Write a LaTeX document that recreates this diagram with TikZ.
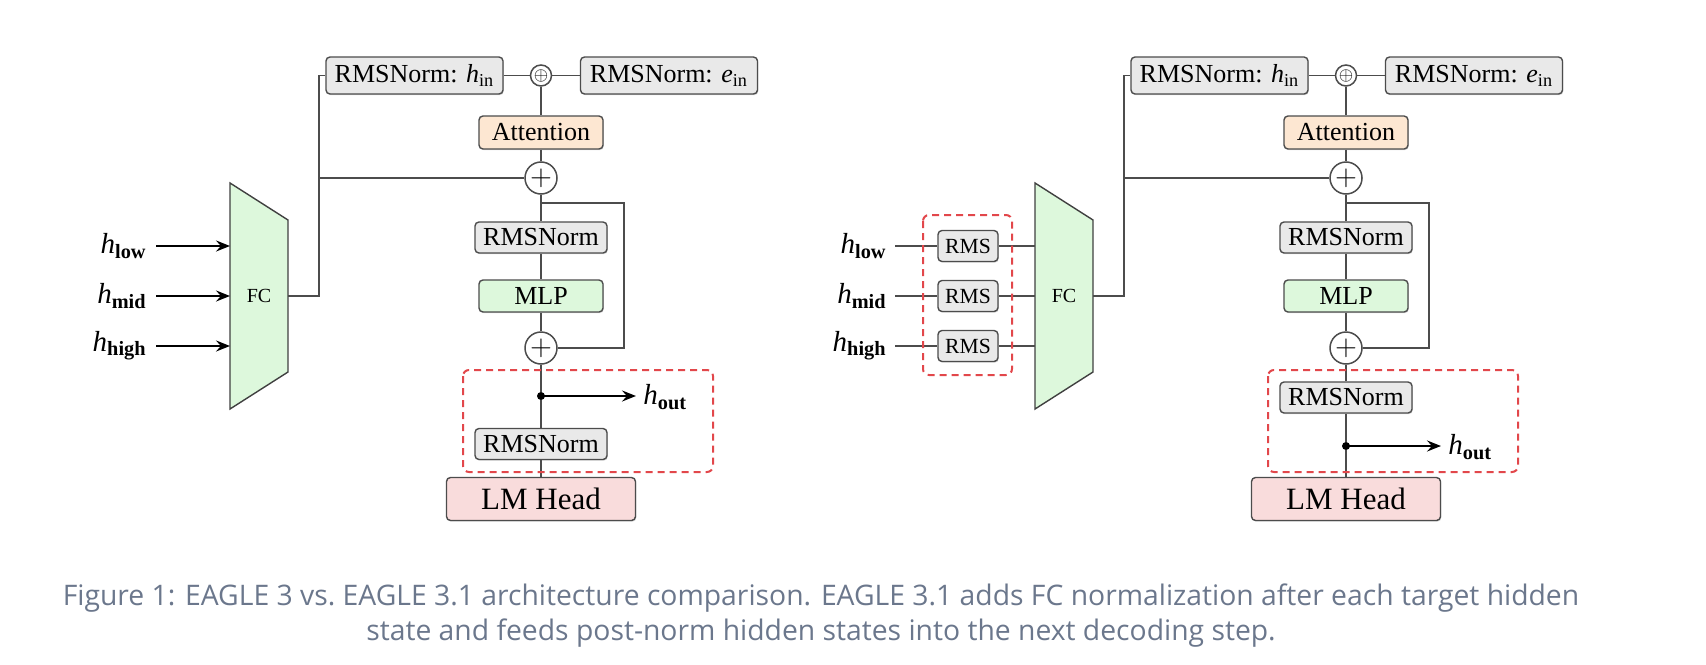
\documentclass[tikz,border=0pt]{standalone}
\usepackage{fontspec}
\setmainfont{Liberation Serif}
\newfontfamily\capfont{Open Sans}
\usepackage{xcolor}
\usepackage{tikz}
\usetikzlibrary{arrows.meta,shadows}

\definecolor{normgray}{HTML}{E9E9E9}
\definecolor{attnpeach}{HTML}{FDE7D2}
\definecolor{mlpgreen}{HTML}{DDF8DC}
\definecolor{headpink}{HTML}{F9DCDC}
\definecolor{dashred}{HTML}{E2474B}
\definecolor{capslate}{HTML}{6B778C}

\newcommand{\hsub}[1]{\textit{h}\textsubscript{\textbf{#1}}}

\tikzset{
  line/.style={draw=black!70,line width=0.75pt},
  box/.style={draw=black!70,line width=0.7pt,rounded corners=2pt,inner sep=0pt,
    font=\fontsize{13}{15}\selectfont,
    drop shadow={shadow xshift=0.4pt,shadow yshift=-0.6pt,opacity=0.3}},
  normbox/.style={box,fill=normgray,minimum width=66pt,minimum height=15.5pt},
  topbox/.style={box,fill=normgray,minimum width=88.5pt,minimum height=18.5pt},
  smallbox/.style={box,fill=normgray,minimum width=30pt,minimum height=15.5pt,font=\fontsize{10.8}{12}\selectfont},
  attnbox/.style={box,fill=attnpeach,minimum width=62pt,minimum height=16.5pt},
  mlpbox/.style={box,fill=mlpgreen,minimum width=62pt,minimum height=16pt},
  headbox/.style={box,fill=headpink,minimum width=94.5pt,minimum height=21.5pt,font=\fontsize{15.5}{17}\selectfont},
  addnode/.style={circle,draw=black!70,line width=0.75pt,fill=white,minimum size=16pt,inner sep=0pt,font=\fontsize{14}{14}\selectfont},
  oplusnode/.style={circle,draw=black!70,line width=0.75pt,fill=white,minimum size=10.5pt,inner sep=0pt,font=\fontsize{9.5}{9.5}\selectfont},
  dotnode/.style={circle,fill=black,minimum size=4pt,inner sep=0pt},
  fcshape/.style={draw=black!75,line width=0.7pt,fill=mlpgreen},
  inlabel/.style={anchor=east,inner sep=0pt,font=\fontsize{14.5}{17}\selectfont},
  outlabel/.style={anchor=west,inner sep=3.5pt,font=\fontsize{14.5}{17}\selectfont},
  arrowline/.style={draw=black,line width=1.1pt,-{Stealth[length=7pt,width=5.5pt,inset=2.5pt]}},
  redbox/.style={draw=dashred,line width=1pt,dash pattern=on 3.5pt off 2.5pt,rounded corners=3pt},
  capnode/.style={align=center,text=capslate,font=\capfont\fontsize{14.15}{17.5}\selectfont}
}

\begin{document}
\begin{tikzpicture}[x=0.5pt,y=-0.5pt]
  \useasboundingbox (0,0) rectangle (1706,664);

  % EAGLE 3 (left)
  \draw[fcshape] (230,183) -- (288,220) -- (288,372) -- (230,409) -- cycle;
  \node[font=\fontsize{10}{12}\selectfont] (fcL) at (259,296) {FC};
  \coordinate (fcLa) at (230,246);
  \coordinate (fcLb) at (230,296);
  \coordinate (fcLc) at (230,346);
  \coordinate (fcLout) at (288,296);
  \coordinate (jL) at (319,296);

  \node[inlabel] (lowL) at (147,246) {\hsub{low}};
  \node[inlabel] (midL) at (147,296) {\hsub{mid}};
  \node[inlabel] (highL) at (147,346) {\hsub{high}};
  \draw[arrowline] (lowL.east) ++(9,0) -- (fcLa);
  \draw[arrowline] (midL.east) ++(9,0) -- (fcLb);
  \draw[arrowline] (highL.east) ++(9,0) -- (fcLc);

  \node[topbox] (hinL) at (414.5,75.5) {RMSNorm: \textit{h}\textsubscript{in}};
  \node[oplusnode] (opL) at (541,75.5) {$\oplus$};
  \node[topbox] (einL) at (669,75.5) {RMSNorm: \textit{e}\textsubscript{in}};
  \node[attnbox] (attnL) at (541,132.5) {Attention};
  \node[addnode] (addaL) at (541,178) {$+$};
  \node[normbox] (rmsaL) at (541,237.5) {RMSNorm};
  \node[mlpbox] (mlpL) at (541,296) {MLP};
  \node[addnode] (addbL) at (541,348) {$+$};
  \node[dotnode] (dotL) at (541,396) {};
  \node[normbox] (rmsbL) at (541,444) {RMSNorm};
  \node[headbox] (headL) at (541,499) {LM Head};
  \node[outlabel] (outL) at (636,397) {\hsub{out}};
  \coordinate (resL) at (541,203);

  \draw[line] (hinL) -- (opL) -- (einL);
  \draw[line] (opL) -- (attnL) -- (addaL) -- (rmsaL) -- (mlpL) -- (addbL) -- (dotL) -- (rmsbL) -- (headL);
  \draw[line] (fcLout) -- (jL) |- (hinL.west);
  \draw[line] (addaL.west) -- (addaL.west -| jL);
  \draw[line] (resL) -- ++(83,0) |- (addbL.east);
  \draw[arrowline] (dotL.center) -- (dotL.center -| outL.west);
  \draw[redbox] (463,370) rectangle (713,472);

  % EAGLE 3.1 (right)
  \draw[fcshape] (1035,183) -- (1093,220) -- (1093,372) -- (1035,409) -- cycle;
  \node[font=\fontsize{10}{12}\selectfont] (fcR) at (1064,296) {FC};
  \coordinate (fcRa) at (1035,246);
  \coordinate (fcRb) at (1035,296);
  \coordinate (fcRc) at (1035,346);
  \coordinate (fcRout) at (1093,296);
  \coordinate (jR) at (1124,296);

  \node[inlabel] (lowR) at (887,246) {\hsub{low}};
  \node[inlabel] (midR) at (887,296) {\hsub{mid}};
  \node[inlabel] (highR) at (887,346) {\hsub{high}};
  \node[smallbox] (rmsR1) at (968,246) {RMS};
  \node[smallbox] (rmsR2) at (968,296) {RMS};
  \node[smallbox] (rmsR3) at (968,346) {RMS};
  \draw[line] (lowR.east) ++(8,0) -- (rmsR1) -- (fcRa);
  \draw[line] (midR.east) ++(8,0) -- (rmsR2) -- (fcRb);
  \draw[line] (highR.east) ++(8,0) -- (rmsR3) -- (fcRc);
  \draw[redbox] (923,215) rectangle (1012,375);

  \node[topbox] (hinR) at (1219.5,75.5) {RMSNorm: \textit{h}\textsubscript{in}};
  \node[oplusnode] (opR) at (1346,75.5) {$\oplus$};
  \node[topbox] (einR) at (1474,75.5) {RMSNorm: \textit{e}\textsubscript{in}};
  \node[attnbox] (attnR) at (1346,132.5) {Attention};
  \node[addnode] (addaR) at (1346,178) {$+$};
  \node[normbox] (rmsaR) at (1346,237.5) {RMSNorm};
  \node[mlpbox] (mlpR) at (1346,296) {MLP};
  \node[addnode] (addbR) at (1346,348) {$+$};
  \node[normbox] (rmsbR) at (1346,397.5) {RMSNorm};
  \node[dotnode] (dotR) at (1346,446) {};
  \node[headbox] (headR) at (1346,499) {LM Head};
  \node[outlabel] (outR) at (1441,447) {\hsub{out}};
  \coordinate (resR) at (1346,203);

  \draw[line] (hinR) -- (opR) -- (einR);
  \draw[line] (opR) -- (attnR) -- (addaR) -- (rmsaR) -- (mlpR) -- (addbR) -- (rmsbR) -- (dotR) -- (headR);
  \draw[line] (fcRout) -- (jR) |- (hinR.west);
  \draw[line] (addaR.west) -- (addaR.west -| jR);
  \draw[line] (resR) -- ++(83,0) |- (addbR.east);
  \draw[arrowline] (dotR.center) -- (dotR.center -| outR.west);
  \draw[redbox] (1268,370) rectangle (1518,472);

  % caption
  \node[capnode] (cap) at (821,616) {Figure 1: EAGLE 3 vs.\ EAGLE 3.1 architecture comparison. EAGLE 3.1 adds FC normalization after each target hidden\\state and feeds post-norm hidden states into the next decoding step.};
\end{tikzpicture}
\end{document}
